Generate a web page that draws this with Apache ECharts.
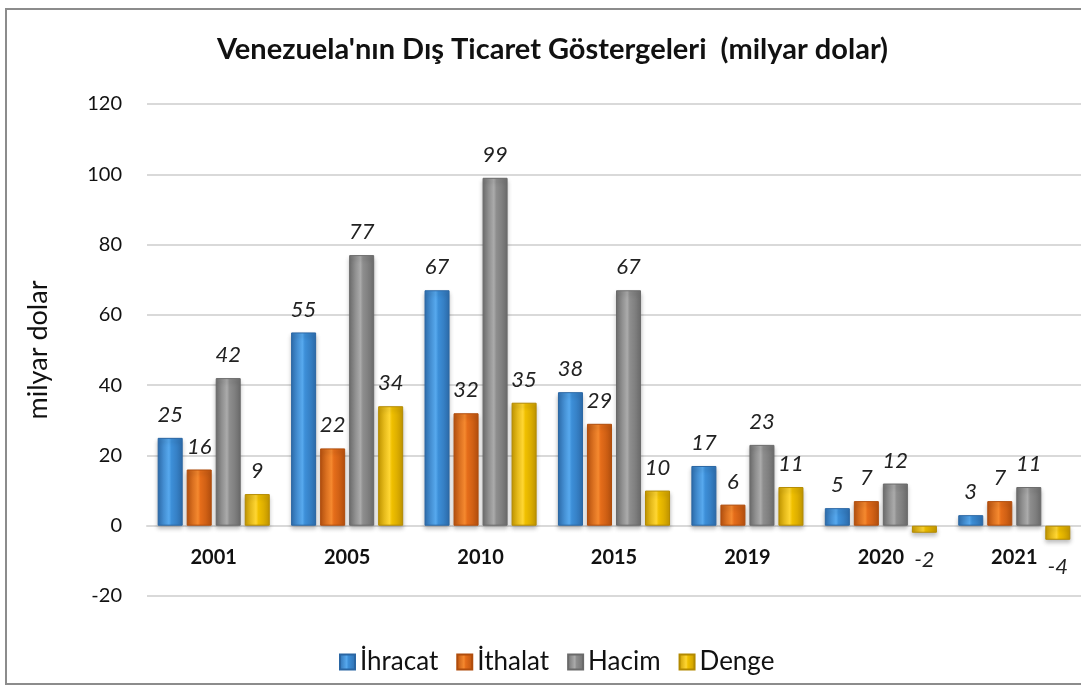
<!DOCTYPE html>
<html>
<head>
<meta charset="utf-8">
<script src="https://cdn.jsdelivr.net/npm/echarts@6/dist/echarts.min.js"></script>
<style>
  html, body { margin: 0; padding: 0; background: #fff; }
  #chart { width: 1081px; height: 688px; }
</style>
</head>
<body>
<div id="chart"></div>
<script>
// yıllar ve seriler (milyar dolar)
var years = ["2001", "2005", "2010", "2015", "2019", "2020", "2021"];
var ihracat = [25, 55, 67, 38, 17, 5, 3];
var ithalat = [16, 22, 32, 29, 6, 7, 7];
var hacim = [42, 77, 99, 67, 23, 12, 11];
var denge = [9, 34, 35, 10, 11, -2, -4];
var seriesNames = ["İhracat", "İthalat", "Hacim", "Denge"];

var FONT = "Lato, 'Open Sans', sans-serif";
var gridTop = 104, gridH = 492, yMin = -20, yMax = 120;
// sıfır çizgisinin alt kenardan uzaklığı
var zeroOffset = gridH * (0 - yMin) / (yMax - yMin);

// silindir benzeri yatay gradyan
var grad = function (dark, mid, light) {
  return new echarts.graphic.LinearGradient(0, 0, 1, 0, [
    { offset: 0, color: dark },
    { offset: 0.45, color: light },
    { offset: 0.55, color: mid },
    { offset: 1, color: dark }
  ]);
};
var colors = [
  grad("#2e6fb0", "#3d8fd8", "#57a9ee"),
  grad("#b9520f", "#e56d1a", "#f5892f"),
  grad("#6f6f6f", "#8e8e8e", "#ababab"),
  grad("#c79a00", "#f0c000", "#ffd633")
];
var borders = ["#2a66a3", "#b04d0c", "#6a6a6a", "#b38a00"];

var makeSeries = function (name, values, i) {
  return {
    name: name,
    type: "bar",
    barGap: "16%",
    barCategoryGap: "16%",
    itemStyle: {
      color: colors[i],
      borderColor: borders[i],
      borderWidth: 1,
      shadowColor: "rgba(0,0,0,0.25)",
      shadowBlur: 4,
      shadowOffsetY: 3
    },
    label: {
      show: true,
      position: "top",
      distance: 12,
      fontFamily: FONT,
      fontStyle: "italic",
      fontSize: 22,
      color: "#222"
    },
    data: values.map(function (v) {
      if (v < 0) {
        return { value: v, label: { position: "bottom", distance: 16 } };
      }
      return v;
    })
  };
};

var option = {
  animation: false,
  backgroundColor: "#fff",
  title: {
    text: "Venezuela'nın Dış Ticaret Göstergeleri  (milyar dolar)",
    left: 212,
    top: 30,
    textStyle: { fontFamily: FONT, fontWeight: "bold", fontSize: 29, color: "#111" }
  },
  legend: {
    bottom: 8,
    left: 334,
    itemWidth: 15,
    itemHeight: 15,
    itemGap: 18,
    icon: "rect",
    textStyle: { fontFamily: FONT, fontSize: 26, color: "#111" },
    data: seriesNames
  },
  grid: { left: 147, top: gridTop, width: 938, height: gridH },
  xAxis: {
    type: "category",
    data: years,
    offset: -zeroOffset,
    axisLine: { onZero: false, lineStyle: { color: "#d9d9d9", width: 2 } },
    axisTick: { show: false },
    axisLabel: {
      margin: 22,
      fontFamily: FONT,
      fontWeight: "bold",
      fontSize: 20,
      color: "#111"
    }
  },
  yAxis: {
    type: "value",
    min: yMin,
    max: yMax,
    interval: 20,
    name: "milyar dolar",
    nameLocation: "middle",
    nameGap: 95,
    nameRotate: 90,
    nameTextStyle: { fontFamily: FONT, fontSize: 27, color: "#111" },
    axisLine: { show: false },
    axisTick: { show: false },
    axisLabel: { margin: 25, fontFamily: FONT, fontSize: 20, color: "#111" },
    splitLine: { lineStyle: { color: "#d9d9d9", width: 2 } }
  },
  graphic: [{
    type: "rect",
    shape: { x: 6, y: 9, width: 1090, height: 675 },
    style: { fill: "none", stroke: "#8c8c8c", lineWidth: 2 },
    z: 100
  }],
  series: [
    makeSeries(seriesNames[0], ihracat, 0),
    makeSeries(seriesNames[1], ithalat, 1),
    makeSeries(seriesNames[2], hacim, 2),
    makeSeries(seriesNames[3], denge, 3)
  ]
};

var chart = echarts.init(document.getElementById("chart"));
chart.setOption(option);
window.addEventListener("resize", function () { chart.resize(); });
</script>
</body>
</html>
